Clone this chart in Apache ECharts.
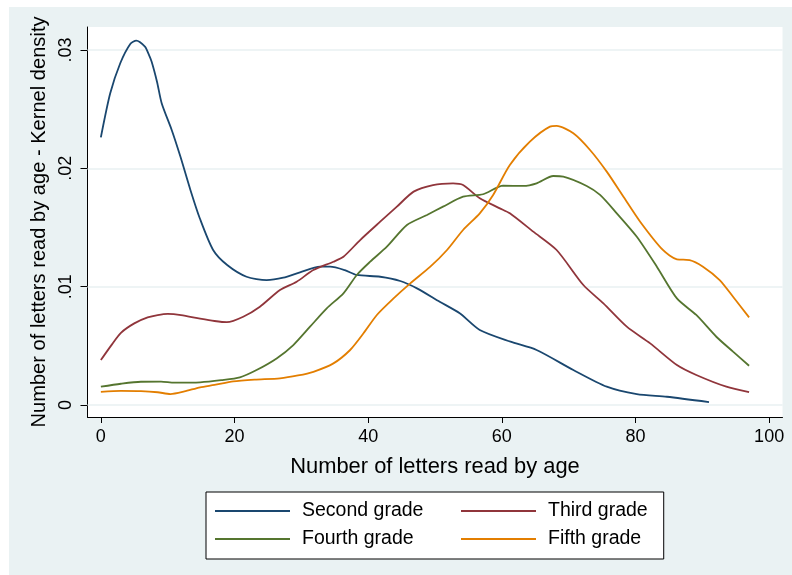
<!DOCTYPE html>
<html>
<head>
<meta charset="utf-8">
<script src="https://cdn.jsdelivr.net/npm/echarts@6/dist/echarts.min.js"></script>
<style>
html,body{margin:0;padding:0;background:#fff;width:792px;height:575px;overflow:hidden;}
#chart{position:absolute;left:9px;top:7px;width:783px;height:568px;}
</style>
</head>
<body>
<div id="chart"></div>
<script>
// ---- data ----
const seriesNames = ['Second grade', 'Third grade', 'Fourth grade', 'Fifth grade'];
const xTicks = [0, 20, 40, 60, 80, 100];
const yTicks = [0, 0.01, 0.02, 0.03];
const xTitle = 'Number of letters read by age';
const yTitle = 'Number of letters read by age - Kernel density';

const secondX = [0, 1.4, 2.9, 4.4, 5.3, 6.6, 7.1, 7.6, 8.4, 9.1, 10.6, 11.9, 13.4, 14.8, 16.8, 18.9, 21.8, 24.8, 27.3, 29.8, 32.8, 34.3, 36.5, 38.3, 41.8, 44.8, 47.3, 50.7, 53.7, 56.7, 61.3, 65.2, 70.7, 75.7, 80.2, 84.7, 91];
const secondY = [0.02262, 0.02634, 0.02888, 0.03051, 0.03079, 0.03028, 0.02972, 0.02901, 0.02732, 0.02550, 0.02324, 0.02099, 0.01817, 0.01578, 0.01310, 0.01183, 0.01084, 0.01056, 0.01076, 0.01121, 0.01169, 0.01169, 0.01140, 0.01099, 0.01084, 0.01048, 0.00986, 0.00873, 0.00775, 0.00634, 0.00535, 0.00465, 0.00296, 0.00155, 0.00093, 0.00070, 0.00025];

const thirdX = [0, 1.5, 3, 5, 7, 8.5, 10, 12, 14.85, 17, 18.85, 21.3, 23.8, 26.8, 29.3, 31.8, 34.8, 36.3, 38.8, 41.8, 44.3, 46.8, 49.7, 52.7, 54.2, 56.7, 59.7, 61.2, 64.7, 68.2, 72.2, 75.2, 78.7, 82.2, 86.2, 89.1, 93.6, 97];
const thirdY = [0.0038, 0.0050, 0.0061, 0.0069, 0.0074, 0.0076, 0.0077, 0.0076, 0.0073, 0.0071, 0.0070, 0.00746, 0.00831, 0.00972, 0.01042, 0.01141, 0.01211, 0.01253, 0.01394, 0.01549, 0.01676, 0.01803, 0.01859, 0.01873, 0.01859, 0.01747, 0.01662, 0.01620, 0.01465, 0.01310, 0.01014, 0.00859, 0.00662, 0.00521, 0.00338, 0.00254, 0.00155, 0.00110];

const fourthX = [0, 3, 6, 9, 11, 14.85, 18, 20.8, 23.3, 26.3, 28.8, 31.3, 33.8, 36.3, 38.3, 40.3, 42.8, 45.8, 48.8, 51.2, 54.2, 57.2, 60.2, 63.2, 65.2, 67.7, 69.2, 72.7, 74.7, 77.2, 80.2, 83.2, 86.2, 89.1, 92.1, 94.6, 97];
const fourthY = [0.00155, 0.00180, 0.00197, 0.00198, 0.00189, 0.00192, 0.00210, 0.00234, 0.00296, 0.00394, 0.00507, 0.00662, 0.00817, 0.00944, 0.01099, 0.01211, 0.01338, 0.01521, 0.01606, 0.01676, 0.01760, 0.01781, 0.01853, 0.01851, 0.01873, 0.01935, 0.01930, 0.01851, 0.01775, 0.01620, 0.01422, 0.01169, 0.00901, 0.00761, 0.00577, 0.00451, 0.00332];

const fifthX = [0, 3, 6, 8.5, 10.4, 12.5, 14.85, 17, 19.8, 23, 26.8, 29.5, 31.8, 34.8, 37.3, 39.3, 41.3, 43.8, 46.3, 49.3, 51.8, 54.2, 56.7, 58.7, 61.2, 64.2, 67.2, 68.2, 70.7, 73.2, 75.7, 78.2, 80.7, 84.1, 86.2, 88.1, 90.1, 92.6, 94.6, 97];
const fifthY = [0.00112, 0.00120, 0.00118, 0.00108, 0.00093, 0.00115, 0.00150, 0.00170, 0.00200, 0.00215, 0.00226, 0.00250, 0.00281, 0.00352, 0.00465, 0.00606, 0.00761, 0.00901, 0.01028, 0.01169, 0.01310, 0.01479, 0.01620, 0.01775, 0.02028, 0.02225, 0.02352, 0.02358, 0.02296, 0.02155, 0.01972, 0.01760, 0.01549, 0.01310, 0.01231, 0.01225, 0.01169, 0.01056, 0.00915, 0.00741];

const colors = ['#1a476f', '#90353b', '#55752f', '#e37e00'];

// ---- build ----
function pairs(xs, ys) { return xs.map((x, i) => [x, ys[i]]); }
const allX = [secondX, thirdX, fourthX, fifthX];
const allY = [secondY, thirdY, fourthY, fifthY];
const FONT = 'Liberation Sans, Arial, Helvetica, sans-serif';

const chart = echarts.init(document.getElementById('chart'), null, {renderer: 'canvas'});

const lineSeries = seriesNames.map((name, i) => ({
  name: name,
  type: 'line',
  data: pairs(allX[i], allY[i]),
  symbol: 'none',
  showSymbol: false,
  smooth: 0.25,
  z: 3,
  lineStyle: {color: colors[i], width: 1.8},
  itemStyle: {color: colors[i]},
  animation: false
}));

const gridSeries = {
  name: 'grid',
  type: 'line',
  data: [],
  z: 1,
  animation: false,
  markLine: {
    silent: true,
    z: 1,
    symbol: ['none', 'none'],
    label: {show: false},
    animation: false,
    lineStyle: {color: '#e8f0f2', width: 1.5, type: 'solid'},
    data: yTicks.map(v => ({yAxis: v}))
  }
};

const baseText = {fontFamily: FONT, fontSize: 19.5, color: '#000', lineHeight: 22};
const firstColText = Object.assign({}, baseText, {width: 140, padding: [0, 0, 0, 7]});
const secondColText = Object.assign({}, baseText, {padding: [0, 0, 0, 7]});

const option = {
  backgroundColor: '#eaf2f3',
  animation: false,
  textStyle: {fontFamily: FONT},
  grid: {
    left: 78.5, top: 20, right: 9.5, bottom: 158,
    show: true, backgroundColor: '#ffffff', borderWidth: 0,
    containLabel: false,
    outerBoundsMode: 'none'
  },
  xAxis: {
    type: 'value',
    min: -2, max: 102,
    name: xTitle,
    nameLocation: 'middle',
    nameGap: 39,
    nameTextStyle: {fontFamily: FONT, fontSize: 21.9, color: '#000'},
    axisLine: {show: true, onZero: false, lineStyle: {color: '#000', width: 1}},
    axisTick: {show: true, inside: false, length: 6, customValues: xTicks, lineStyle: {color: '#000', width: 1}},
    axisLabel: {show: true, customValues: xTicks, margin: 11, fontFamily: FONT, fontSize: 18, color: '#000'},
    splitLine: {show: false}
  },
  yAxis: {
    type: 'value',
    min: -0.00101, max: 0.03194,
    name: yTitle,
    nameLocation: 'middle',
    nameGap: 31,
    nameRotate: 90,
    nameTextStyle: {fontFamily: FONT, fontSize: 20.1, color: '#000'},
    axisLine: {show: true, onZero: false, lineStyle: {color: '#000', width: 1}},
    axisTick: {show: true, inside: false, length: 7, customValues: yTicks, lineStyle: {color: '#000', width: 1}},
    axisLabel: {
      show: true, customValues: yTicks, rotate: 90, margin: 12,
      fontFamily: FONT, fontSize: 18, color: '#000',
      formatter: v => (Math.abs(v) < 1e-12 ? '0' : String(+v.toFixed(4)).replace(/^0\./, '.'))
    },
    splitLine: {show: false}
  },
  legend: [
    {
      data: [{name: seriesNames[0], textStyle: firstColText}, {name: seriesNames[1], textStyle: secondColText}],
      left: 197, top: 485,
      orient: 'horizontal',
      icon: 'rect', itemWidth: 75, itemHeight: 2, itemGap: 19,
      padding: [8, 16, 37, 9],
      backgroundColor: '#ffffff', borderColor: '#000', borderWidth: 1,
      textStyle: baseText,
      selectedMode: false,
      z: 4
    },
    {
      data: [{name: seriesNames[2], textStyle: firstColText}, {name: seriesNames[3], textStyle: secondColText}],
      left: 206, top: 521,
      orient: 'horizontal',
      icon: 'rect', itemWidth: 75, itemHeight: 2, itemGap: 19,
      padding: 0,
      textStyle: baseText,
      selectedMode: false,
      z: 5
    }
  ],
  series: [gridSeries].concat(lineSeries)
};

chart.setOption(option);
</script>
</body>
</html>
